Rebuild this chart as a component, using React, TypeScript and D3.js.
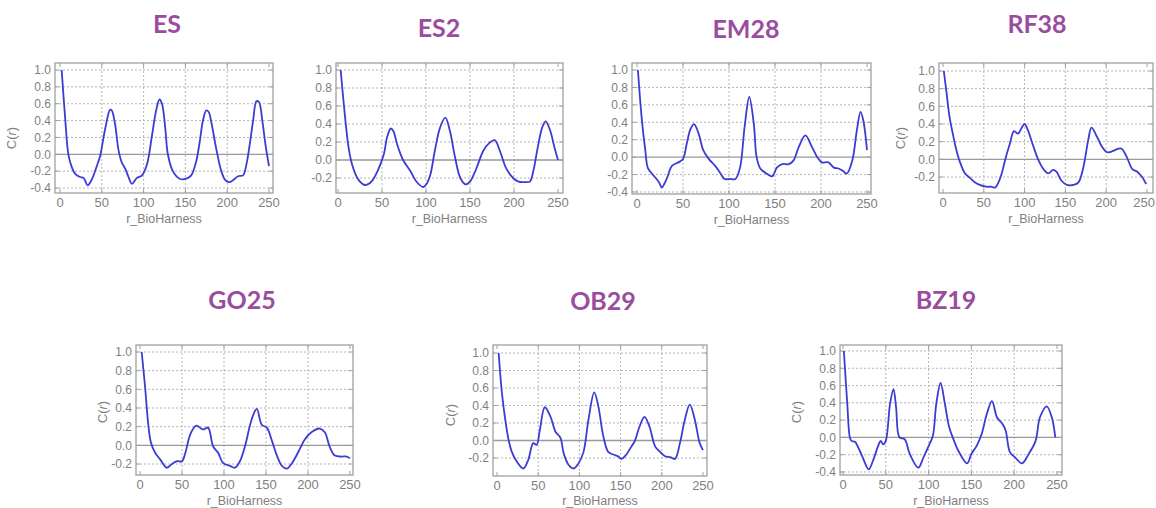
import React from "react";
import * as d3 from "d3";

// ---------- data ----------
const xTicks = [0, 50, 100, 150, 200, 250];
const yTicksA = [-0.4, -0.2, 0.0, 0.2, 0.4, 0.6, 0.8, 1.0];
const yTicksB = [-0.2, 0.0, 0.2, 0.4, 0.6, 0.8, 1.0];

const esLag = [2,6,10,14,18,24,28,30,33,38,44,48,54,60,62,66,70,74,78,82,86,92,98,104,110,115,119,122,126,129,135,143,151,157,163,167,171,175,178,181,187,193,198,203,208,213,219,223,227,231,235,238,242,246,250];
const esC   = [1.0,0.45,0.0,-0.15,-0.23,-0.27,-0.28,-0.31,-0.37,-0.3,-0.14,-0.02,0.3,0.53,0.52,0.35,0.05,-0.1,-0.17,-0.27,-0.35,-0.28,-0.25,-0.12,0.22,0.52,0.65,0.6,0.3,0.0,-0.2,-0.29,-0.29,-0.25,-0.08,0.14,0.4,0.52,0.5,0.38,0.06,-0.2,-0.31,-0.33,-0.3,-0.26,-0.25,-0.12,0.12,0.4,0.63,0.62,0.4,0.1,-0.14];

const es2Lag = [3,8,12,16,22,27,31,38,46,52,56,60,63,67,74,82,90,97,101,105,110,116,122,127,133,139,145,150,157,165,172,178,184,191,199,205,212,218,222,227,232,236,241,246,250];
const es2C   = [1.0,0.48,0.14,-0.05,-0.2,-0.26,-0.28,-0.24,-0.1,0.06,0.26,0.35,0.32,0.18,0.0,-0.12,-0.25,-0.3,-0.26,-0.16,0.1,0.36,0.47,0.33,0.03,-0.2,-0.27,-0.24,-0.1,0.1,0.19,0.22,0.1,-0.09,-0.2,-0.24,-0.245,-0.24,-0.12,0.14,0.36,0.43,0.33,0.14,0.0];

const em28Lag = [1,5,9,12,18,24,27,30,33,38,45,50,54,58,62,67,72,78,85,91,95,101,107,112,117,122,127,130,134,141,147,152,158,165,170,176,183,190,196,201,208,214,219,224,228,234,239,243,246,250];
const em28C   = [1.0,0.46,0.08,-0.13,-0.21,-0.29,-0.35,-0.3,-0.23,-0.1,-0.06,-0.02,0.15,0.32,0.38,0.27,0.08,-0.02,-0.1,-0.19,-0.25,-0.25,-0.25,-0.12,0.35,0.69,0.38,0.0,-0.13,-0.19,-0.22,-0.12,-0.08,-0.08,-0.04,0.12,0.25,0.12,0.0,-0.06,-0.06,-0.12,-0.13,-0.16,-0.19,-0.04,0.31,0.52,0.42,0.08];

const rf38Lag = [1,4,8,12,16,20,27,33,39,45,53,59,64,68,72,76,82,87,92,96,100,104,111,117,123,129,135,139,145,152,160,166,172,178,182,189,195,201,207,215,219,225,232,238,244,249];
const rf38C   = [1.0,0.78,0.48,0.29,0.12,-0.01,-0.16,-0.21,-0.26,-0.29,-0.31,-0.31,-0.32,-0.26,-0.16,-0.01,0.18,0.32,0.29,0.35,0.4,0.33,0.14,-0.01,-0.11,-0.16,-0.12,-0.14,-0.24,-0.29,-0.29,-0.26,-0.09,0.22,0.36,0.25,0.14,0.08,0.09,0.12,0.12,0.03,-0.11,-0.14,-0.2,-0.28];

const go25Lag = [2,6,10,13,18,24,32,38,44,50,54,60,67,75,81,87,93,99,107,113,119,125,133,139,145,151,157,163,169,175,181,188,196,204,214,220,226,232,240,246,250];
const go25C   = [1.0,0.63,0.21,0.03,-0.08,-0.15,-0.24,-0.2,-0.17,-0.17,-0.08,0.12,0.21,0.17,0.19,-0.01,-0.08,-0.19,-0.22,-0.24,-0.17,-0.01,0.28,0.39,0.22,0.19,0.05,-0.11,-0.22,-0.25,-0.19,-0.08,0.06,0.14,0.18,0.14,-0.02,-0.11,-0.12,-0.12,-0.14];

const ob29Lag = [2,6,10,14,18,24,32,38,44,48,52,58,65,71,77,81,87,93,99,105,111,118,123,129,135,141,147,151,157,163,167,173,179,185,192,198,204,210,216,222,228,234,240,246,250];
const ob29C   = [1.0,0.54,0.24,0.01,-0.13,-0.24,-0.32,-0.22,-0.03,-0.05,0.12,0.38,0.27,0.1,0.03,-0.15,-0.28,-0.32,-0.26,-0.13,0.24,0.55,0.39,0.05,-0.13,-0.16,-0.18,-0.21,-0.16,-0.07,-0.01,0.16,0.27,0.16,-0.07,-0.13,-0.18,-0.19,-0.21,-0.03,0.24,0.41,0.24,-0.03,-0.11];

const bz19Lag = [1,5,8,10,14,18,23,30,35,41,44,47,50,55,59,62,66,72,78,88,94,100,105,109,114,119,124,129,135,145,150,156,162,168,174,180,186,190,195,201,209,217,225,230,238,244,248];
const bz19C   = [1.0,0.39,0.0,-0.04,-0.05,-0.12,-0.23,-0.37,-0.27,-0.1,-0.04,-0.08,-0.04,0.39,0.56,0.35,0.0,-0.02,-0.19,-0.35,-0.23,-0.1,0.02,0.39,0.63,0.39,0.12,-0.02,-0.16,-0.3,-0.19,-0.1,0.04,0.27,0.42,0.23,0.16,0.08,-0.17,-0.23,-0.3,-0.19,-0.04,0.23,0.36,0.23,0.0];

const names = ["ES", "ES2", "EM28", "RF38", "GO25", "OB29", "BZ19"];

// ---------- layout ----------
type Panel = {
  name: string; lag: number[]; c: number[]; yTicks: number[];
  frame: [number, number, number, number]; // left, right, top, bottom
  xr: [number, number]; // pixel of x=0, x=250
  yr: [number, number, number, number]; // yLow value, pixel, yHigh value, pixel
  title: [number, number]; ylab: [number, number] | null;
};

const panels: Panel[] = [
  { name: names[0], lag: esLag, c: esC, yTicks: yTicksA, frame: [55, 273, 63, 193], xr: [60, 269], yr: [-0.4, 188, 1.0, 70], title: [167, 33], ylab: [16, 138] },
  { name: names[1], lag: es2Lag, c: es2C, yTicks: yTicksB, frame: [336, 563, 63, 193], xr: [338, 558], yr: [-0.2, 178, 1.0, 70], title: [439, 37], ylab: null },
  { name: names[2], lag: em28Lag, c: em28C, yTicks: yTicksA, frame: [632, 871, 63, 194], xr: [637, 867], yr: [-0.4, 192, 1.0, 70], title: [746, 38], ylab: null },
  { name: names[3], lag: rf38Lag, c: rf38C, yTicks: yTicksB, frame: [939, 1153, 63, 193], xr: [943, 1147], yr: [-0.2, 177, 1.0, 71], title: [1037, 33], ylab: [905, 138] },
  { name: names[4], lag: go25Lag, c: go25C, yTicks: yTicksB, frame: [136, 353, 345, 475], xr: [140, 350], yr: [-0.2, 464, 1.0, 352], title: [242, 309], ylab: [107, 412] },
  { name: names[5], lag: ob29Lag, c: ob29C, yTicks: yTicksB, frame: [493, 707, 345, 476], xr: [497, 703], yr: [-0.2, 458, 1.0, 353], title: [603, 310], ylab: [455, 415] },
  { name: names[6], lag: bz19Lag, c: bz19C, yTicks: yTicksA, frame: [840, 1062, 345, 475], xr: [843, 1057], yr: [-0.4, 472, 1.0, 351], title: [946, 309], ylab: [801, 412] },
];

const W = 1156;
const H = 508;
const TICK_FONT = "'Liberation Sans', Arial, sans-serif";
const GRAY = "#7f7f7f";

function PanelView({ p }: { p: Panel }) {
  const [l, r, t, b] = p.frame;
  const x = d3.scaleLinear().domain([0, 250]).range(p.xr);
  const y = d3.scaleLinear().domain([p.yr[0], p.yr[2]]).range([p.yr[1], p.yr[3]]);
  const pts = p.lag.map((v, i) => [v, p.c[i]] as [number, number]);
  const line = d3.line<[number, number]>().x(d => x(d[0])).y(d => y(d[1])).curve(d3.curveCatmullRom.alpha(0.5));
  const cx = (l + r) / 2;
  const xlabY = Math.min(b + 30, H - 3);
  return (
    <g>
      <text x={p.title[0]} y={p.title[1]} textAnchor="middle" fontFamily="Lato, 'Open Sans', sans-serif" fontWeight={700} fontSize={25} fill="#9a4c9f">{p.name}</text>
      {/* grid */}
      {xTicks.filter(v => v > 0 && v < 250).map(v => (
        <line key={"gx" + v} x1={x(v)} x2={x(v)} y1={t} y2={b} stroke="#adadad" strokeWidth={0.9} strokeDasharray="2,2" />
      ))}
      {p.yTicks.filter(v => Math.abs(v) > 1e-9).map(v => (
        <line key={"gy" + v} x1={l} x2={r} y1={y(v)} y2={y(v)} stroke="#adadad" strokeWidth={0.9} strokeDasharray="2,2" />
      ))}
      <line x1={l} x2={r} y1={y(0)} y2={y(0)} stroke="#999" strokeWidth={1.3} />
      {/* frame */}
      <rect x={l} y={t} width={r - l} height={b - t} fill="none" stroke="#a0a0a0" strokeWidth={1.3} />
      {xTicks.map(v => {
        const px = x(v);
        const nearEdge = px + 12 > W;
        return (
          <g key={"tx" + v}>
            <line x1={px} x2={px} y1={b} y2={b - 4} stroke="#a0a0a0" />
            <line x1={px} x2={px} y1={t} y2={t + 4} stroke="#a0a0a0" />
            <text x={nearEdge ? W - 1 : px} y={b + 14} textAnchor={nearEdge ? "end" : "middle"} fontFamily={TICK_FONT} fontSize={13} fill={GRAY}>{v}</text>
          </g>
        );
      })}
      {p.yTicks.map(v => (
        <g key={"ty" + v}>
          <line x1={l} x2={l + 4} y1={y(v)} y2={y(v)} stroke="#a0a0a0" />
          <line x1={r} x2={r - 4} y1={y(v)} y2={y(v)} stroke="#a0a0a0" />
          <text x={l - 4} y={y(v) + 4.3} textAnchor="end" fontFamily={TICK_FONT} fontSize={12} fill={GRAY}>{v.toFixed(1)}</text>
        </g>
      ))}
      <text x={cx} y={xlabY} textAnchor="middle" fontFamily={TICK_FONT} fontSize={12.5} fill={GRAY}>r_BioHarness</text>
      {p.ylab && (
        <text transform={`translate(${p.ylab[0]},${p.ylab[1]}) rotate(-90)`} textAnchor="middle" fontFamily={TICK_FONT} fontSize={13} fill={GRAY}>
          C(<tspan fontStyle="italic">r</tspan>)
        </text>
      )}
      <path d={line(pts) || ""} fill="none" stroke="#3c3cd4" strokeWidth={1.8} strokeLinejoin="round" />
    </g>
  );
}

export default function App() {
  return (
    <svg width={W} height={H} style={{ position: "absolute", left: 0, top: 0, background: "#fff" }}>
      <rect width={W} height={H} fill="#fff" />
      {panels.map(p => <PanelView key={p.name} p={p} />)}
    </svg>
  );
}
